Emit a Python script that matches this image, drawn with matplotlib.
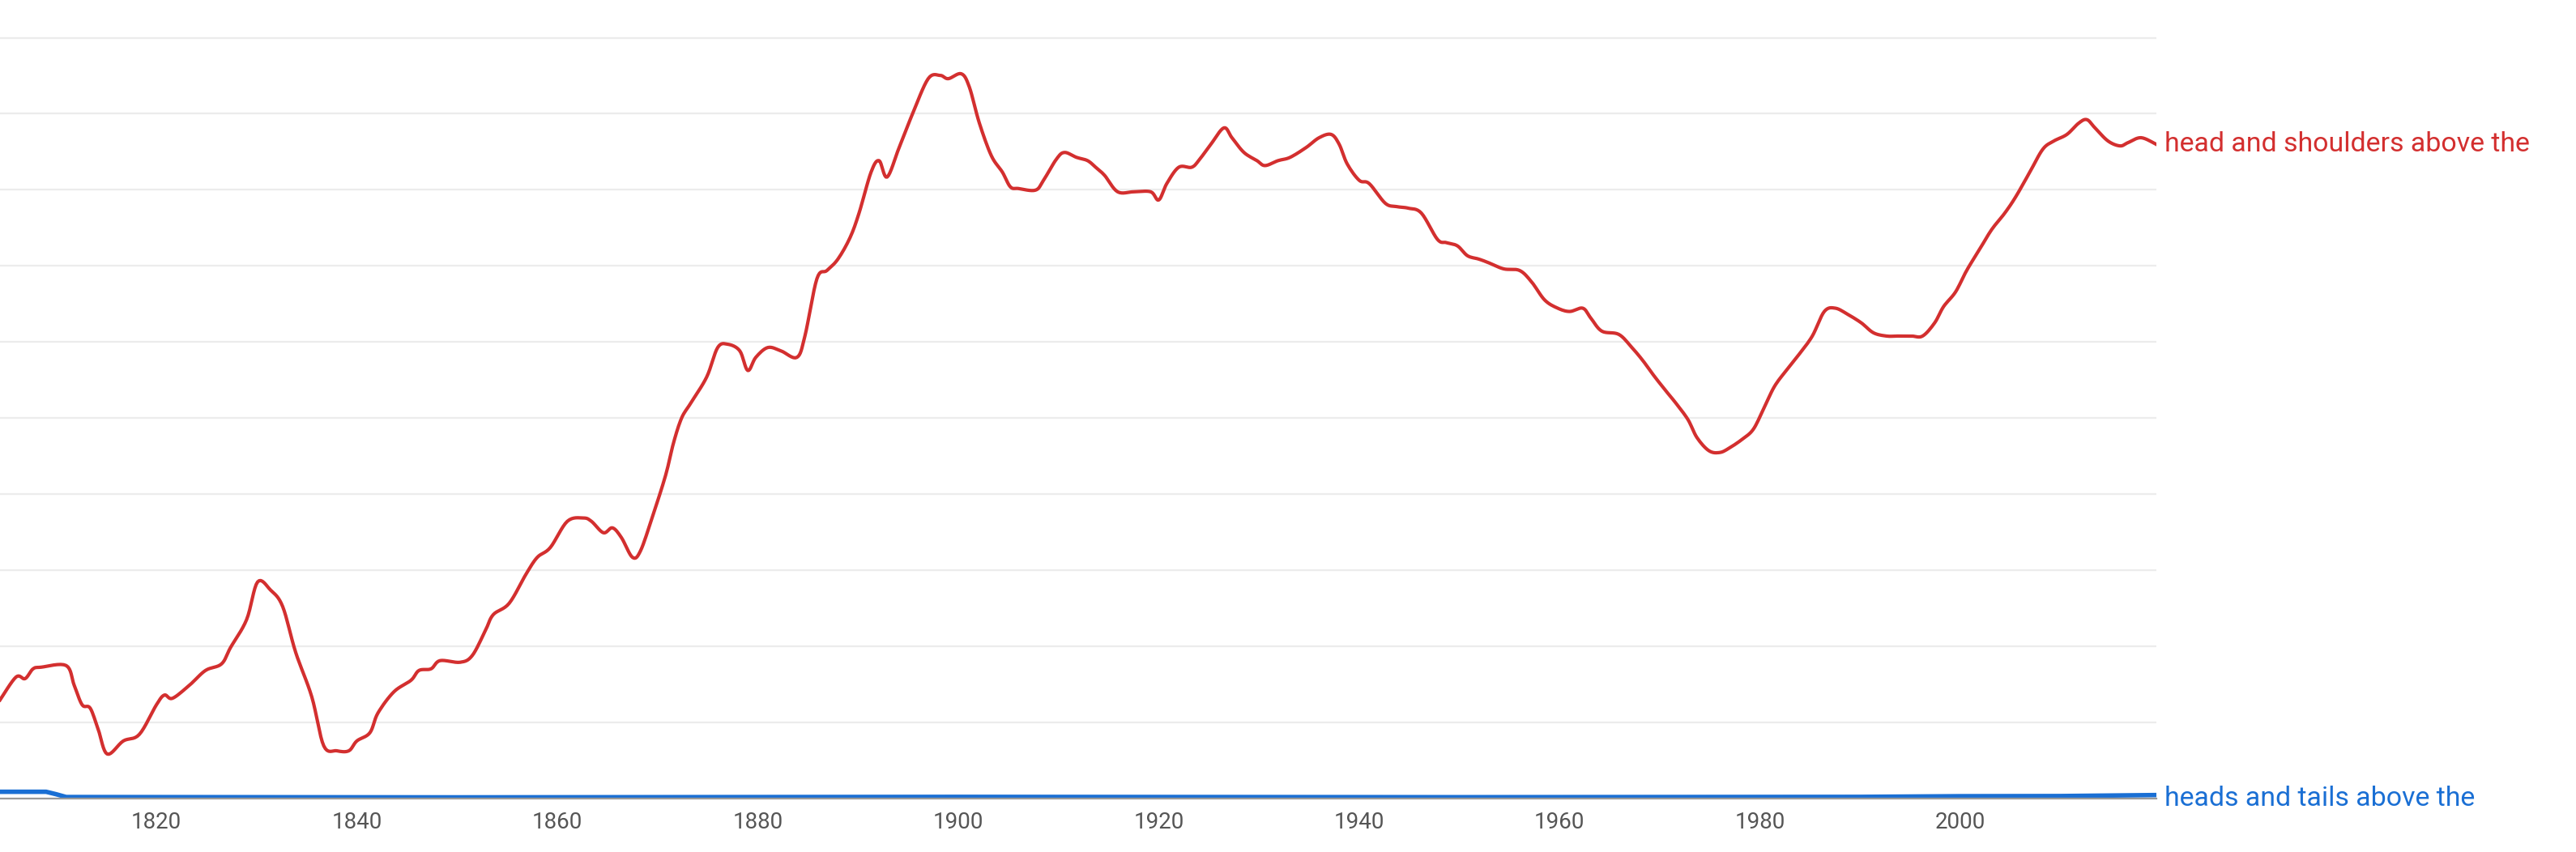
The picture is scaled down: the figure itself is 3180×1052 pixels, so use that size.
import matplotlib.pyplot as plt
import numpy as np

# Ngram-style frequencies (arbitrary units, gridline step = 46.4)
red_years = [1804.4, 1806.0, 1806.9, 1807.7, 1808.5, 1811.0, 1811.8, 1812.6, 1813.4, 1814.2,
             1815.1, 1816.7, 1818.3, 1820.0, 1820.8, 1821.6, 1823.3, 1824.9, 1826.5, 1827.4,
             1829.0, 1830.1, 1831.4, 1832.6, 1833.9, 1835.5, 1836.7, 1838.0, 1839.2, 1840.0,
             1841.3, 1842.1, 1843.7, 1845.4, 1846.2, 1847.4, 1848.3, 1850.3, 1851.5, 1852.8,
             1853.6, 1855.2, 1856.9, 1858.0, 1859.3, 1861.0, 1862.6, 1863.4, 1864.6, 1865.5,
             1866.4, 1867.5, 1868.3, 1869.5, 1870.8, 1871.6, 1872.4, 1873.3, 1874.9, 1876.0,
             1877.0, 1878.2, 1879.0, 1879.8, 1881.0, 1882.3, 1883.9, 1884.7, 1885.9, 1886.9,
             1888.0, 1889.2, 1890.1, 1891.3, 1892.1, 1892.9, 1894.1, 1895.4, 1897.0, 1898.2,
             1899.0, 1900.3, 1901.1, 1902.1, 1903.3, 1904.4, 1905.2, 1906.0, 1907.7, 1908.5,
             1909.8, 1910.6, 1911.8, 1912.9, 1913.7, 1914.6, 1915.9, 1917.5, 1919.2, 1920.0,
             1920.8, 1922.0, 1923.3, 1924.1, 1925.2, 1926.5, 1927.3, 1928.5, 1929.8, 1930.6,
             1931.9, 1933.1, 1934.7, 1936.0, 1937.2, 1938.0, 1938.8, 1940.0, 1941.0, 1942.6,
             1943.7, 1944.9, 1946.2, 1947.8, 1948.7, 1949.8, 1950.8, 1951.9, 1952.8, 1954.4,
             1956.0, 1957.2, 1958.5, 1959.8, 1961.0, 1962.3, 1963.1, 1964.2, 1965.9, 1967.2,
             1968.3, 1969.5, 1970.8, 1971.6, 1972.8, 1973.7, 1974.9, 1976.0, 1977.0, 1978.2,
             1979.3, 1980.3, 1981.4, 1982.6, 1983.9, 1985.2, 1986.4, 1987.5, 1988.8, 1990.1,
             1991.3, 1992.6, 1993.7, 1995.1, 1996.2, 1997.4, 1998.3, 1999.5, 2000.6, 2001.9,
             2003.1, 2004.4, 2005.5, 2006.9, 2008.2, 2009.3, 2010.6, 2011.8, 2012.6, 2013.4,
             2014.7, 2015.9, 2016.7, 2018.0, 2019.5]
red_y_px = [427, 413, 414, 408, 407, 406, 418, 430, 432, 445,
            460, 452, 448, 430, 424, 426, 418, 409, 405, 395,
            378, 355, 360, 370, 398, 425, 455, 458, 458, 452,
            447, 435, 422, 415, 409, 408, 403, 404, 400, 385,
            375, 368, 350, 340, 334, 318, 316, 318, 325, 322,
            328, 340, 336, 315, 290, 270, 255, 246, 230, 212,
            210, 214, 226, 218, 212, 214, 218, 205, 170, 165,
            158, 145, 130, 105, 98, 108, 90, 70, 48, 46,
            48, 45, 53, 75, 95, 105, 114, 115, 116, 110,
            97, 93, 96, 98, 102, 107, 117, 117, 117, 122,
            112, 102, 102, 97, 88, 78, 84, 93, 98, 101,
            98, 96, 90, 84, 82, 88, 100, 110, 112, 124,
            126, 127, 130, 146, 148, 150, 156, 158, 160, 164,
            165, 172, 183, 188, 190, 188, 194, 202, 204, 212,
            220, 230, 240, 246, 256, 267, 275, 276, 273, 268,
            262, 250, 236, 226, 216, 205, 190, 188, 192, 197,
            203, 205, 205, 205, 205, 197, 187, 178, 165, 152,
            140, 130, 120, 105, 91, 86, 82, 75, 73, 78,
            86, 89, 87, 84, 88]
red_values = [487 - v for v in red_y_px]

blue_years = [1804.4, 1809.0, 1810.0, 1811.0, 1850, 1900, 1950, 1990, 2000, 2010, 2019.5]
blue_values = [4.0, 4.0, 2.5, 0.8, 0.6, 0.9, 0.7, 0.9, 1.3, 1.4, 2.0]

red_label = "head and shoulders above the"
blue_label = "heads and tails above the"
red_color = "#d32f2f"
blue_color = "#1a6fd4"


def smooth_path(x, y, steps=8):
    # Catmull-Rom curve through the points, for a rounded line like the original
    x = np.asarray(x, float)
    y = np.asarray(y, float)
    px = np.concatenate([[x[0]], x, [x[-1]]])
    py = np.concatenate([[y[0]], y, [y[-1]]])
    t = np.linspace(0, 1, steps, endpoint=False)[:, None]
    out_x, out_y = [], []
    for p, arr in ((px, out_x), (py, out_y)):
        p0, p1, p2, p3 = p[:-3], p[1:-2], p[2:-1], p[3:]
        seg = 0.5 * (2 * p1 + (-p0 + p2) * t + (2 * p0 - 5 * p1 + 4 * p2 - p3) * t ** 2
                     + (-p0 + 3 * p1 - 3 * p2 + p3) * t ** 3)
        arr.extend(seg.T.ravel())
        arr.append(p[-2])
    return out_x, out_y


fig = plt.figure(figsize=(15.9, 5.26), dpi=200)
ax = fig.add_axes([0.0, 0.063, 0.837, 0.937])
ax.plot(*smooth_path(red_years, red_values), color=red_color, lw=1.5)
ax.plot(blue_years, blue_values, color=blue_color, lw=2.0)
ax.set_xlim(1804.4, 2019.5)
ax.set_ylim(0, 487)
ax.set_yticks([46.4 * k for k in range(1, 11)])
ax.set_yticklabels([])
ax.tick_params(axis="y", length=0)
ax.grid(axis="y", color="#ececec", lw=0.8)
ax.set_xticks(range(1820, 2001, 20))
ax.tick_params(axis="x", length=0, labelsize=10, labelcolor="#555555", pad=6)
for side in ["top", "right", "left"]:
    ax.spines[side].set_visible(False)
ax.spines["bottom"].set_color("#999999")
ax.text(1.004, red_values[-1], red_label, transform=ax.get_yaxis_transform(),
        color=red_color, fontsize=12.2, va="center", family="Roboto")
ax.text(1.004, blue_values[-1] - 2, blue_label, transform=ax.get_yaxis_transform(),
        color=blue_color, fontsize=12.2, va="center", family="Roboto")
for t in ax.get_xticklabels():
    t.set_family("Roboto")
fig.savefig("out.png", dpi=200)
